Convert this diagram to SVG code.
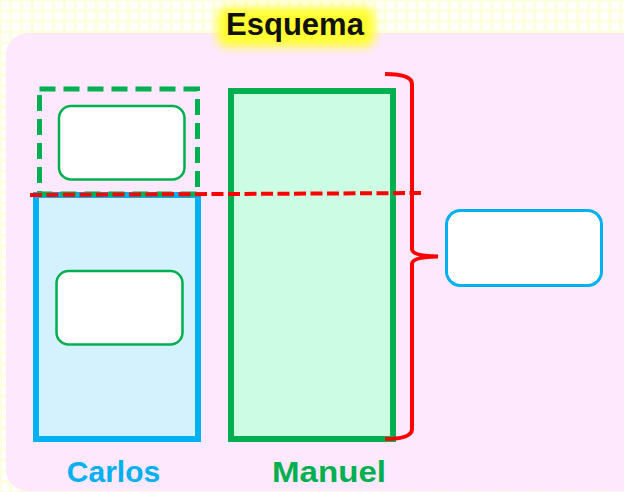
<svg xmlns="http://www.w3.org/2000/svg" width="624" height="492" viewBox="0 0 624 492">
  <defs>
    <pattern id="grid" x="0" y="0" width="10.7" height="10.7" patternUnits="userSpaceOnUse">
      <rect width="10.7" height="10.7" fill="#fefedd"/>
      <rect x="1.5" y="1.5" width="7.7" height="7.7" fill="#ffffff"/>
    </pattern>
    <filter id="glow" x="-30%" y="-60%" width="160%" height="220%">
      <feGaussianBlur stdDeviation="5"/>
    </filter>
    <style>
      .lbl { font-family: "Liberation Sans", Arial, sans-serif; font-weight: bold; text-anchor: middle; }
      .inner { fill: #ffffff; stroke: #00b050; stroke-width: 2.5; }
      .red { fill: none; stroke: #ff0000; stroke-width: 4; }
    </style>
  </defs>

  <rect width="624" height="492" fill="url(#grid)"/>
  <rect x="6" y="33" width="640" height="458" rx="22" fill="#fde8fd"/>

  <g id="title">
    <rect x="217" y="7" width="158" height="40" rx="10" fill="#ffff33" filter="url(#glow)"/>
    <text class="lbl" x="295" y="35" font-size="31" fill="#111111">Esquema</text>
  </g>

  <g id="carlos">
    <rect x="36" y="195" width="162" height="244" fill="#d4f2fd" stroke="#00b0f0" stroke-width="6"/>
    <text class="lbl" x="113.5" y="482" font-size="30" fill="#00b0f0">Carlos</text>
  </g>

  <g id="carlos-inner">
    <rect class="inner" x="56.5" y="271" width="126" height="73.5" rx="12"/>
  </g>

  <g id="dashed-part">
    <rect x="39.5" y="89" width="158" height="105" fill="none" stroke="#00b050" stroke-width="5" stroke-dasharray="16 8"/>
  </g>

  <g id="dashed-inner">
    <rect class="inner" x="59" y="106" width="125.5" height="73.5" rx="12"/>
  </g>

  <g id="manuel">
    <rect x="231" y="91" width="162" height="348" fill="#ccfce4" stroke="#00b050" stroke-width="6"/>
    <text class="lbl" x="329" y="482" font-size="30" fill="#00b050" textLength="114" lengthAdjust="spacingAndGlyphs">Manuel</text>
  </g>

  <g id="result-box">
    <rect x="446.5" y="210.5" width="155" height="75" rx="14" fill="#ffffff" stroke="#00b0f0" stroke-width="3"/>
  </g>

  <g id="connectors">
    <line class="red" x1="30" y1="195" x2="421" y2="193" stroke-dasharray="12 4.5"/>
    <path class="red" d="M385,74 Q412,74 412,84 L412,249 Q412,256 438,256.5 Q412,257 412,264 L412,429 Q412,439 385,439"/>
  </g>
</svg>
